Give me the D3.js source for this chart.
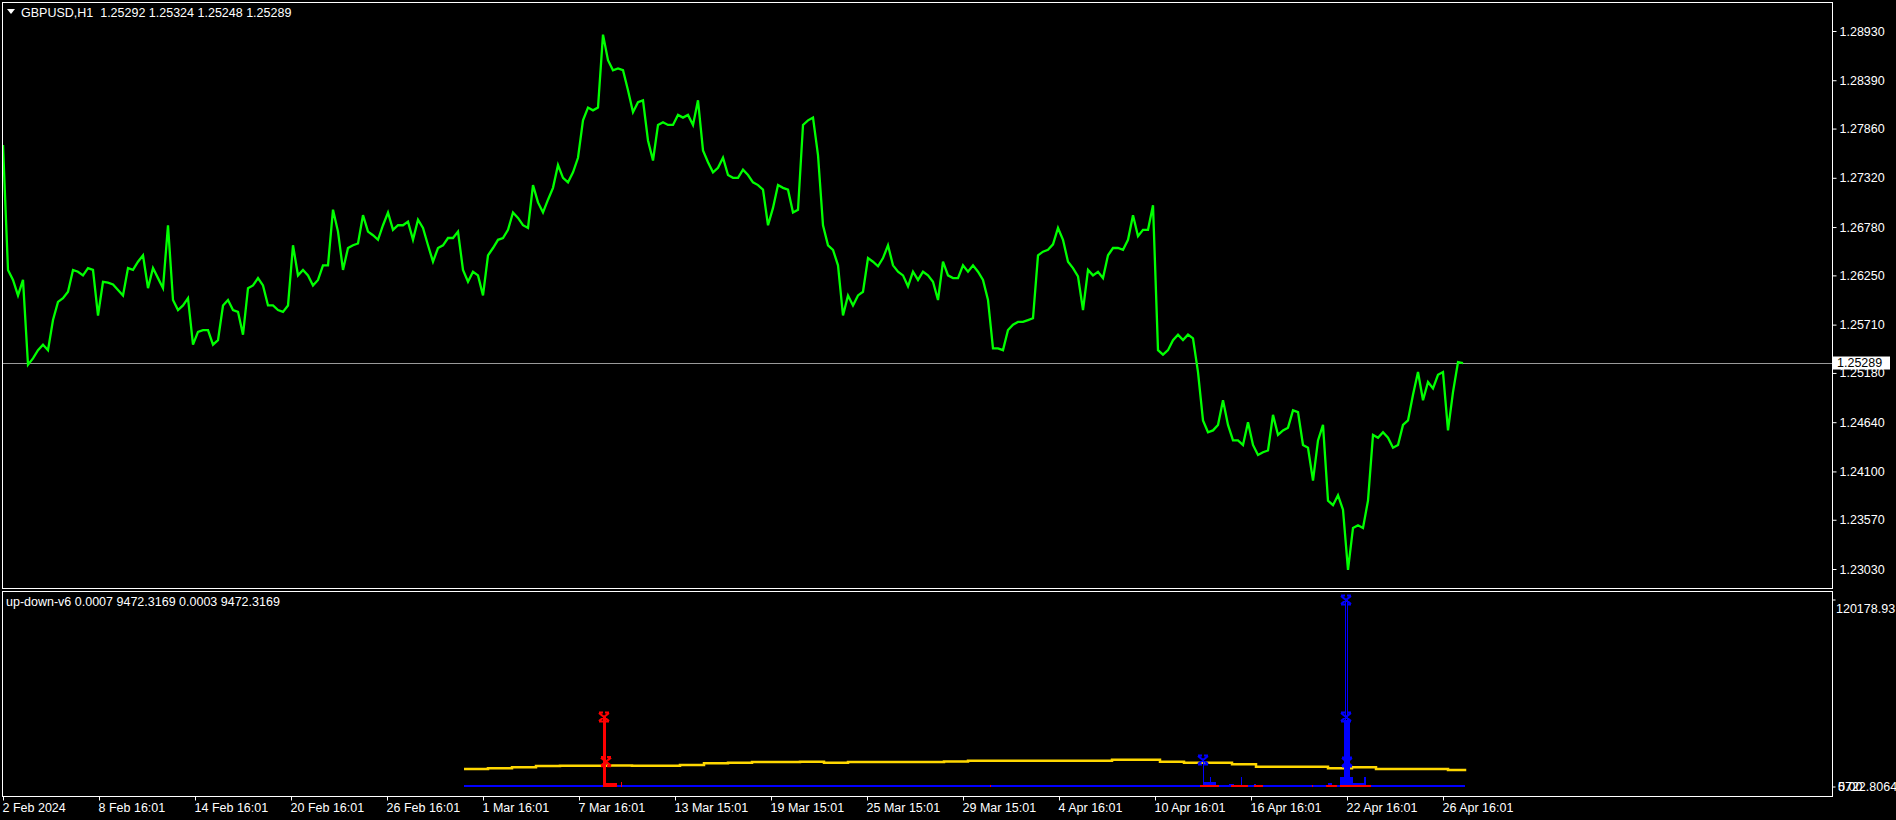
<!DOCTYPE html>
<html><head><meta charset="utf-8">
<script src="https://cdn.jsdelivr.net/npm/d3@7"></script>
<style>html,body{margin:0;padding:0;background:#000;overflow:hidden}svg{display:block}</style>
</head><body><svg id="c" width="1896" height="820"></svg>
<script>
// ---------- DATA ----------
const closeStep = 5; // hourly bars between samples
const closes = [
1.2768,1.2631,1.2620,1.2603,1.2620,1.2527,1.2534,1.2543,1.2549,1.2543,
1.2576,1.2596,1.2600,1.2607,1.2631,1.2629,1.2625,1.2633,1.2631,1.2581,
1.2618,1.2617,1.2615,1.2609,1.2603,1.2633,1.2631,1.2640,1.2647,1.2611,
1.2633,1.2622,1.2611,1.2680,1.2598,1.2587,1.2592,1.2600,1.2549,1.2563,
1.2565,1.2565,1.2549,1.2554,1.2592,1.2598,1.2587,1.2585,1.2560,1.2611,
1.2614,1.2622,1.2614,1.2592,1.2592,1.2587,1.2585,1.2592,1.2658,1.2625,
1.2631,1.2625,1.2614,1.2620,1.2636,1.2636,1.2697,1.2673,1.2631,1.2655,
1.2658,1.2660,1.2691,1.2673,1.2669,1.2664,
1.2680,1.2694,1.2675,1.2680,1.2680,1.2684,1.2664,1.2686,1.2677,1.2658,
1.2640,1.2655,1.2658,1.2666,1.2666,1.2673,1.2631,1.2618,1.2629,1.2625,
1.2603,1.2647,1.2655,1.2664,1.2666,1.2675,1.2694,1.2688,1.2680,1.2677,
1.2724,1.2705,1.2694,1.2708,1.2721,1.2746,1.2732,1.2727,1.2738,1.2754,
1.2795,1.2809,1.2806,1.2809,1.2889,1.2861,1.2850,1.2852,1.2850,1.2828,
1.2804,1.2815,1.2817,1.2773,1.2751,1.2790,1.2793,1.2790,1.2790,1.2801,
1.2798,1.2801,1.2790,1.2817,1.2762,1.2749,1.2738,1.2743,1.2754,1.2735,
1.2732,1.2732,1.2741,
1.2735,1.2727,1.2724,1.2719,1.2680,1.2699,1.2724,1.2721,1.2719,1.2694,
1.2697,1.2790,1.2795,1.2798,1.2757,1.2680,1.2658,1.2653,1.2636,1.2581,
1.2603,1.2592,1.2603,1.2607,1.2644,1.2640,1.2635,1.2644,1.2658,1.2636,
1.2629,1.2625,1.2613,1.2629,1.2620,1.2629,1.2625,1.2618,1.2598,1.2640,
1.2625,1.2622,1.2622,1.2636,1.2629,1.2636,1.2629,1.2620,1.2598,1.2545,
1.2545,1.2543,1.2565,1.2571,1.2574,1.2574,1.2576,1.2578,1.2647,1.2651,
1.2653,1.2659,1.2677,1.2664,1.2640,1.2633,1.2624,1.2587,1.2631,1.2625,
1.2629,1.2622,1.2647,1.2655,
1.2655,1.2653,1.2664,1.2691,1.2668,1.2675,1.2675,1.2702,1.2543,1.2538,
1.2543,1.2554,1.2560,1.2554,1.2560,1.2556,1.2519,1.2466,1.2453,1.2455,
1.2461,1.2488,1.2461,1.2444,1.2444,1.2439,1.2464,1.2439,1.2428,1.2431,
1.2433,1.2472,1.2450,1.2455,1.2458,1.2477,1.2475,1.2439,1.2436,1.2400,
1.2444,1.2461,1.2378,1.2373,1.2384,1.2368,1.2302,1.2348,1.2351,1.2348,
1.2378,1.2450,1.2447,1.2453,1.2447,1.2436,1.2439,1.2461,1.2466,1.2494,
1.2519,1.2488,1.2508,1.2501,1.2516,1.2519,1.2455,1.2497,1.2530,1.25289
];
const totalBars = 1829;
const priceTicks = [1.28930,1.28390,1.27860,1.27320,1.26780,1.26250,1.25710,1.25180,1.24640,1.24100,1.23570,1.23030];
const priceMin = 1.23030, priceMax = 1.28930;
const lastPrice = 1.25289;
const titleText = "GBPUSD,H1  1.25292 1.25324 1.25248 1.25289";
const timeTickBars = [0,96,192,288,384,480,576,672,768,864,960,1056,1152,1248,1344,1440];
const timeTickLabels = ["2 Feb 2024","8 Feb 16:01","14 Feb 16:01","20 Feb 16:01","26 Feb 16:01","1 Mar 16:01","7 Mar 16:01","13 Mar 15:01","19 Mar 15:01","25 Mar 15:01","29 Mar 15:01","4 Apr 16:01","10 Apr 16:01","16 Apr 16:01","22 Apr 16:01","26 Apr 16:01"];

// indicator
const indText = "up-down-v6 0.0007 9472.3169 0.0003 9472.3169";
const indMax = 120178.93;
const indLabelsTop = ["120178.93"];
const indLabelsBottom = ["0.00","5722.8064"];
const yellowBars = [461,485,509,533,557,581,605,629,653,677,701,725,749,773,797,821,845,869,893,917,941,965,989,1013,1037,1061,1085,1109,1133,1157,1181,1205,1229,1253,1277,1301,1325,1349,1373,1397,1421,1445,1462];
const yellowVals = [10980,11430,12080,12920,13110,13110,13300,13110,13110,13570,14660,15050,15500,15500,15700,15050,15500,15500,15500,15500,15900,16340,16340,16340,16340,16340,16340,16990,16990,15700,15050,15050,14020,12470,12470,12470,11430,12080,10980,10980,10980,10340,9472.3169];
const blueRunStart = [1200,1201,1207,1226,1238,1251,1325,1337,1341,1342,1344,1347,1350,1361];
const blueRunEnd   = [1200,1212,1207,1230,1238,1252,1328,1340,1346,1342,1344,1349,1360,1362];
const blueRunVal   = [16796,2584,5814,1300,5814,1300,1938,5814,42636,120178.93,120178.93,5814,1938,5814];
const redRunStart = [600,603,618,987,1197,1228,1251,1309,1323,1337];
const redRunEnd   = [602,613,618,987,1215,1244,1259,1309,1333,1367];
const redRunVal   = [44574,1938,2584,650,650,650,650,650,650,650];
const blueMarkBars = [1343,1343,1344,1200];
const blueMarkVals = [120178.93,44574,15504,16796];
const redMarkBars = [601,603];
const redMarkVals = [44574,15700];

// ---------- DRAW ----------
const svg = d3.select('#c');
const FONT = "'Liberation Sans', Arial, sans-serif";
const L = 2.5, R = 1832.5, mainTop = 2.5, mainBot = 588.5, indTop = 591.5, indBot = 796.5;

const x = d3.scaleLinear().domain([0, totalBars]).range([3, 1832]);
const y = d3.scaleLinear().domain([priceMin, priceMax]).range([569, 31]);
const yi = d3.scaleLinear().domain([0, indMax]).range([786, 600]);

svg.append('rect').attr('width',1896).attr('height',820).attr('fill','#000');

const defs = svg.append('defs');
defs.append('clipPath').attr('id','cm').append('rect').attr('x',L).attr('y',mainTop).attr('width',R-L).attr('height',mainBot-mainTop);
defs.append('clipPath').attr('id','ci').append('rect').attr('x',L).attr('y',indTop).attr('width',R-L).attr('height',indBot-indTop);

// last price line
svg.append('line').attr('x1',L).attr('x2',R).attr('y1',Math.round(y(lastPrice))+0.5).attr('y2',Math.round(y(lastPrice))+0.5)
  .attr('stroke','#9a9a9a').attr('stroke-width',1);

// price line
const gMain = svg.append('g').attr('clip-path','url(#cm)');
gMain.append('path').datum(closes)
  .attr('d', d3.line().x((d,i)=>x(i*closeStep)).y(d=>y(d)))
  .attr('fill','none').attr('stroke','#00ff00').attr('stroke-width',2.3).attr('stroke-linejoin','miter');

// frames
svg.append('rect').attr('x',L).attr('y',mainTop).attr('width',R-L).attr('height',mainBot-mainTop).attr('fill','none').attr('stroke','#fff');
svg.append('rect').attr('x',L).attr('y',indTop).attr('width',R-L).attr('height',indBot-indTop).attr('fill','none').attr('stroke','#fff');

// title
svg.append('path').attr('d','M7,9 L15,9 L11,14 Z').attr('fill','#fff');
svg.append('text').attr('x',21).attr('y',16.5).attr('fill','#fff').attr('font-family',FONT).attr('font-size','12.5px')
  .style('white-space','pre').text(titleText);

// price axis
const ay = svg.append('g').attr('transform',`translate(${R},0)`)
  .call(d3.axisRight(y).tickValues(priceTicks).tickFormat(d=>d.toFixed(5)).tickSize(4).tickPadding(3));
ay.select('.domain').remove();
ay.selectAll('line').attr('stroke','#fff');
ay.selectAll('text').attr('fill','#fff').attr('font-family',FONT).attr('font-size','12.5px');

// last price label box
const lpY = y(lastPrice);
svg.append('rect').attr('x',1833).attr('y',lpY-6.5).attr('width',57).attr('height',13).attr('fill','#fff');
svg.append('text').attr('x',1837).attr('y',lpY).attr('dy','0.35em').attr('fill','#000').attr('font-family',FONT).attr('font-size','12.5px').text(lastPrice.toFixed(5));

// time axis
const ax = svg.append('g').attr('transform',`translate(0,${indBot})`)
  .call(d3.axisBottom(x).tickValues(timeTickBars).tickFormat((d,i)=>timeTickLabels[i]).tickSize(4).tickPadding(3));
ax.select('.domain').remove();
ax.selectAll('line').attr('stroke','#fff');
ax.selectAll('text').attr('fill','#fff').attr('font-family',FONT).attr('font-size','12.5px').attr('text-anchor','start').attr('dx','-1');

// indicator
const gInd = svg.append('g').attr('clip-path','url(#ci)');
gInd.append('path').datum(yellowBars.map((b,i)=>[b,yellowVals[i]]))
  .attr('d', d3.line().x(d=>x(d[0])).y(d=>yi(d[1])).curve(d3.curveStepAfter))
  .attr('fill','none').attr('stroke','#ffd700').attr('stroke-width',2.5);
const bExt = d3.extent(yellowBars);
gInd.append('line').attr('x1',x(bExt[0])).attr('x2',x(bExt[1])).attr('y1',yi(0)).attr('y2',yi(0))
  .attr('stroke','#0000ff').attr('stroke-width',2);

function runs(starts, ends, vals, color){
  gInd.selectAll(null).data(starts.map((s,i)=>({s, e:ends[i], v:vals[i]}))).enter().append('rect')
    .attr('x',d=>x(d.s)-0.5).attr('width',d=>x(d.e)-x(d.s)+1)
    .attr('y',d=>yi(d.v)).attr('height',d=>yi(0)+1-yi(d.v))
    .attr('fill',color).attr('shape-rendering','crispEdges');
}
runs(blueRunStart, blueRunEnd, blueRunVal, '#0000ff');
runs(redRunStart, redRunEnd, redRunVal, '#ff0000');

function marks(bars, vals, color){
  gInd.selectAll(null).data(bars.map((b,i)=>[b,vals[i]])).enter().append('path')
    .attr('transform',d=>`translate(${x(d[0])},${yi(d[1])})`)
    .attr('d','M-5,-4 L5,4 M5,-4 L-5,4 M-5,-4.5 L-1,-4.5 M1,-4.5 L5,-4.5 M-5,4.5 L-1,4.5 M1,4.5 L5,4.5')
    .attr('stroke',color).attr('stroke-width',2.2).attr('fill','none');
}
marks(blueMarkBars, blueMarkVals, '#0000ff');
marks(redMarkBars, redMarkVals, '#ff0000');

svg.append('text').attr('x',6).attr('y',602).attr('dy','0.35em').attr('fill','#fff').attr('font-family',FONT).attr('font-size','12.5px').text(indText);

// indicator scale labels
svg.append('line').attr('x1',R).attr('x2',R+3).attr('y1',yi(indMax)).attr('y2',yi(indMax)).attr('stroke','#fff');
svg.append('line').attr('x1',R).attr('x2',R+3).attr('y1',yi(0)+1).attr('y2',yi(0)+1).attr('stroke','#fff');
svg.append('text').attr('x',1836).attr('y',609).attr('dy','0.35em').attr('fill','#fff').attr('font-family',FONT).attr('font-size','12.5px').text(indLabelsTop[0]);
indLabelsBottom.forEach(t=>{
  svg.append('text').attr('x',1838).attr('y',yi(0)+1).attr('dy','0.35em').attr('fill','#fff').attr('font-family',FONT).attr('font-size','12.5px').text(t);
});
</script></body></html>
